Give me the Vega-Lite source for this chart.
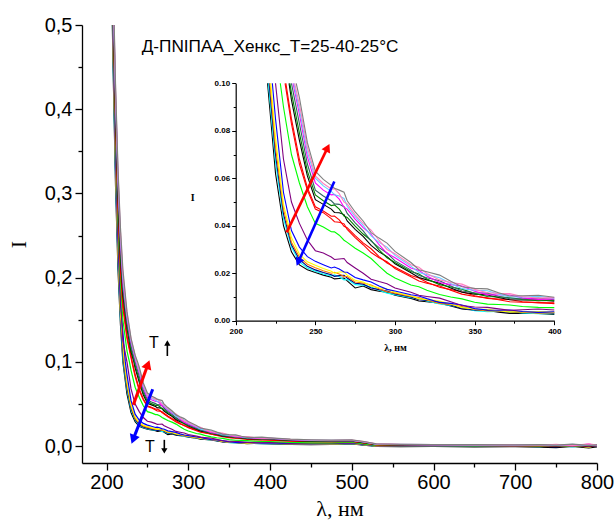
{
"$schema": "https://vega.github.io/schema/vega-lite/v6.json",
"width": 515,
"height": 438,
"autosize": "none",
"padding": {"left": 82, "top": 25, "right": 18, "bottom": 63},
"background": "white",
"config": {"view": {"stroke": null}},
"datasets": {
"curves": [
{"s":"s01","x":205,"y":0.62},{"s":"s01","x":208,"y":0.45},{"s":"s01","x":211,"y":0.31},{"s":"s01","x":214,"y":0.21},{"s":"s01","x":217,"y":0.145},{"s":"s01","x":220,"y":0.1},{"s":"s01","x":225,"y":0.062},{"s":"s01","x":230,"y":0.04},{"s":"s01","x":235,"y":0.029},{"s":"s01","x":240,"y":0.0235},{"s":"s01","x":245,"y":0.0215},{"s":"s01","x":250,"y":0.0203},{"s":"s01","x":255,"y":0.0192},{"s":"s01","x":260,"y":0.0183},{"s":"s01","x":265,"y":0.0178},{"s":"s01","x":270,"y":0.0168},{"s":"s01","x":275,"y":0.0138},{"s":"s01","x":280,"y":0.0146},{"s":"s01","x":290,"y":0.0124},{"s":"s01","x":300,"y":0.0107},{"s":"s01","x":310,"y":0.0094},{"s":"s01","x":320,"y":0.008},{"s":"s01","x":335,"y":0.0062},{"s":"s01","x":350,"y":0.0044},{"s":"s01","x":365,"y":0.0036},{"s":"s01","x":380,"y":0.0032},{"s":"s01","x":400,"y":0.0026},{"s":"s01","x":425,"y":0.0022},{"s":"s01","x":450,"y":0.0019},{"s":"s01","x":475,"y":0.0021},{"s":"s01","x":500,"y":0.0028},{"s":"s01","x":515,"y":0.0012},{"s":"s01","x":530,"y":-0.0003},{"s":"s01","x":560,"y":-0.0006},{"s":"s01","x":600,"y":-0.0004},{"s":"s01","x":650,"y":-0.0009},{"s":"s01","x":700,"y":-0.0006},{"s":"s01","x":730,"y":-0.0012},{"s":"s01","x":750,"y":-0.0018},{"s":"s01","x":770,"y":-0.0004},{"s":"s01","x":790,"y":-0.0022},{"s":"s01","x":800,"y":-0.0008},
{"s":"s02","x":205,"y":0.63},{"s":"s02","x":208,"y":0.46},{"s":"s02","x":211,"y":0.32},{"s":"s02","x":214,"y":0.22},{"s":"s02","x":217,"y":0.15},{"s":"s02","x":220.5,"y":0.1},{"s":"s02","x":225,"y":0.067},{"s":"s02","x":230,"y":0.043},{"s":"s02","x":235,"y":0.031},{"s":"s02","x":240,"y":0.0248},{"s":"s02","x":245,"y":0.0222},{"s":"s02","x":250,"y":0.0208},{"s":"s02","x":255,"y":0.0197},{"s":"s02","x":260,"y":0.0189},{"s":"s02","x":265,"y":0.0185},{"s":"s02","x":270,"y":0.0174},{"s":"s02","x":275,"y":0.0152},{"s":"s02","x":280,"y":0.015},{"s":"s02","x":290,"y":0.0128},{"s":"s02","x":300,"y":0.011},{"s":"s02","x":310,"y":0.0097},{"s":"s02","x":320,"y":0.0083},{"s":"s02","x":335,"y":0.0064},{"s":"s02","x":350,"y":0.0042},{"s":"s02","x":365,"y":0.0039},{"s":"s02","x":380,"y":0.0033},{"s":"s02","x":400,"y":0.003},{"s":"s02","x":425,"y":0.0025},{"s":"s02","x":450,"y":0.0023},{"s":"s02","x":475,"y":0.0024},{"s":"s02","x":500,"y":0.0031},{"s":"s02","x":515,"y":0.0015},{"s":"s02","x":530,"y":0.0001},{"s":"s02","x":560,"y":-0.0002},{"s":"s02","x":600,"y":0.0002},{"s":"s02","x":650,"y":-0.0004},{"s":"s02","x":700,"y":0.0001},{"s":"s02","x":730,"y":-0.0007},{"s":"s02","x":750,"y":0.0006},{"s":"s02","x":770,"y":-0.001},{"s":"s02","x":790,"y":0.0008},{"s":"s02","x":800,"y":-0.0002},
{"s":"s03","x":205,"y":0.64},{"s":"s03","x":208,"y":0.47},{"s":"s03","x":211,"y":0.33},{"s":"s03","x":214,"y":0.225},{"s":"s03","x":217,"y":0.155},{"s":"s03","x":221,"y":0.1},{"s":"s03","x":225,"y":0.07},{"s":"s03","x":230,"y":0.045},{"s":"s03","x":235,"y":0.032},{"s":"s03","x":240,"y":0.0258},{"s":"s03","x":245,"y":0.0229},{"s":"s03","x":250,"y":0.0214},{"s":"s03","x":255,"y":0.0203},{"s":"s03","x":260,"y":0.0194},{"s":"s03","x":265,"y":0.019},{"s":"s03","x":270,"y":0.018},{"s":"s03","x":275,"y":0.0158},{"s":"s03","x":280,"y":0.0154},{"s":"s03","x":290,"y":0.0131},{"s":"s03","x":300,"y":0.0113},{"s":"s03","x":310,"y":0.01},{"s":"s03","x":320,"y":0.0085},{"s":"s03","x":335,"y":0.0066},{"s":"s03","x":350,"y":0.0045},{"s":"s03","x":365,"y":0.004},{"s":"s03","x":380,"y":0.0035},{"s":"s03","x":400,"y":0.0032},{"s":"s03","x":425,"y":0.0026},{"s":"s03","x":450,"y":0.0024},{"s":"s03","x":475,"y":0.0026},{"s":"s03","x":500,"y":0.0033},{"s":"s03","x":515,"y":0.0016},{"s":"s03","x":530,"y":0.0002},{"s":"s03","x":560,"y":0.0},{"s":"s03","x":600,"y":-0.0003},{"s":"s03","x":650,"y":0.0003},{"s":"s03","x":700,"y":-0.0002},{"s":"s03","x":730,"y":0.0004},{"s":"s03","x":750,"y":-0.0008},{"s":"s03","x":770,"y":0.0012},{"s":"s03","x":790,"y":-0.0006},{"s":"s03","x":800,"y":0.0004},
{"s":"s04","x":205,"y":0.645},{"s":"s04","x":208,"y":0.475},{"s":"s04","x":211,"y":0.335},{"s":"s04","x":214,"y":0.23},{"s":"s04","x":217,"y":0.158},{"s":"s04","x":221.5,"y":0.1},{"s":"s04","x":225,"y":0.073},{"s":"s04","x":230,"y":0.047},{"s":"s04","x":235,"y":0.033},{"s":"s04","x":240,"y":0.0268},{"s":"s04","x":245,"y":0.0238},{"s":"s04","x":250,"y":0.0223},{"s":"s04","x":255,"y":0.021},{"s":"s04","x":260,"y":0.02},{"s":"s04","x":265,"y":0.0197},{"s":"s04","x":270,"y":0.0186},{"s":"s04","x":275,"y":0.0163},{"s":"s04","x":280,"y":0.0159},{"s":"s04","x":290,"y":0.0135},{"s":"s04","x":300,"y":0.0116},{"s":"s04","x":310,"y":0.0102},{"s":"s04","x":320,"y":0.0087},{"s":"s04","x":335,"y":0.0068},{"s":"s04","x":350,"y":0.0047},{"s":"s04","x":365,"y":0.0041},{"s":"s04","x":380,"y":0.0036},{"s":"s04","x":400,"y":0.0034},{"s":"s04","x":425,"y":0.0028},{"s":"s04","x":450,"y":0.0025},{"s":"s04","x":475,"y":0.0027},{"s":"s04","x":500,"y":0.0034},{"s":"s04","x":515,"y":0.0018},{"s":"s04","x":530,"y":0.0003},{"s":"s04","x":560,"y":0.0001},{"s":"s04","x":600,"y":0.0004},{"s":"s04","x":650,"y":-0.0002},{"s":"s04","x":700,"y":0.0005},{"s":"s04","x":730,"y":-0.0003},{"s":"s04","x":750,"y":0.001},{"s":"s04","x":770,"y":-0.0004},{"s":"s04","x":790,"y":0.0015},{"s":"s04","x":800,"y":0.0002},
{"s":"s05","x":205,"y":0.65},{"s":"s05","x":208,"y":0.48},{"s":"s05","x":211,"y":0.34},{"s":"s05","x":214,"y":0.235},{"s":"s05","x":217,"y":0.162},{"s":"s05","x":222,"y":0.1},{"s":"s05","x":225,"y":0.077},{"s":"s05","x":230,"y":0.049},{"s":"s05","x":235,"y":0.035},{"s":"s05","x":240,"y":0.028},{"s":"s05","x":245,"y":0.0248},{"s":"s05","x":250,"y":0.0234},{"s":"s05","x":255,"y":0.022},{"s":"s05","x":260,"y":0.0208},{"s":"s05","x":265,"y":0.0205},{"s":"s05","x":270,"y":0.0192},{"s":"s05","x":275,"y":0.017},{"s":"s05","x":280,"y":0.0163},{"s":"s05","x":290,"y":0.0139},{"s":"s05","x":300,"y":0.012},{"s":"s05","x":310,"y":0.0105},{"s":"s05","x":320,"y":0.0089},{"s":"s05","x":335,"y":0.007},{"s":"s05","x":350,"y":0.0049},{"s":"s05","x":365,"y":0.0042},{"s":"s05","x":380,"y":0.0037},{"s":"s05","x":400,"y":0.0036},{"s":"s05","x":425,"y":0.0029},{"s":"s05","x":450,"y":0.0026},{"s":"s05","x":475,"y":0.0028},{"s":"s05","x":500,"y":0.0036},{"s":"s05","x":515,"y":0.0019},{"s":"s05","x":530,"y":0.0004},{"s":"s05","x":560,"y":0.0002},{"s":"s05","x":600,"y":0.0001},{"s":"s05","x":650,"y":0.0003},{"s":"s05","x":700,"y":0.0},{"s":"s05","x":730,"y":0.0006},{"s":"s05","x":750,"y":-0.0002},{"s":"s05","x":770,"y":0.0008},{"s":"s05","x":790,"y":-0.0012},{"s":"s05","x":800,"y":0.001},
{"s":"s06","x":205,"y":0.66},{"s":"s06","x":208,"y":0.49},{"s":"s06","x":211,"y":0.35},{"s":"s06","x":214,"y":0.245},{"s":"s06","x":217,"y":0.17},{"s":"s06","x":223,"y":0.1},{"s":"s06","x":225,"y":0.085},{"s":"s06","x":230,"y":0.054},{"s":"s06","x":235,"y":0.038},{"s":"s06","x":240,"y":0.031},{"s":"s06","x":245,"y":0.027},{"s":"s06","x":250,"y":0.025},{"s":"s06","x":255,"y":0.0236},{"s":"s06","x":260,"y":0.0222},{"s":"s06","x":265,"y":0.0218},{"s":"s06","x":270,"y":0.0204},{"s":"s06","x":275,"y":0.0182},{"s":"s06","x":280,"y":0.0172},{"s":"s06","x":290,"y":0.0146},{"s":"s06","x":300,"y":0.0125},{"s":"s06","x":310,"y":0.0109},{"s":"s06","x":320,"y":0.0093},{"s":"s06","x":335,"y":0.0073},{"s":"s06","x":350,"y":0.0051},{"s":"s06","x":365,"y":0.0044},{"s":"s06","x":380,"y":0.0039},{"s":"s06","x":400,"y":0.0038},{"s":"s06","x":425,"y":0.0031},{"s":"s06","x":450,"y":0.0028},{"s":"s06","x":475,"y":0.003},{"s":"s06","x":500,"y":0.0038},{"s":"s06","x":515,"y":0.0021},{"s":"s06","x":530,"y":0.0005},{"s":"s06","x":560,"y":0.0003},{"s":"s06","x":600,"y":0.0002},{"s":"s06","x":650,"y":-0.0001},{"s":"s06","x":700,"y":0.0004},{"s":"s06","x":730,"y":0.0001},{"s":"s06","x":750,"y":0.0007},{"s":"s06","x":770,"y":0.0002},{"s":"s06","x":790,"y":0.0005},{"s":"s06","x":800,"y":-0.0004},
{"s":"s07","x":205,"y":0.67},{"s":"s07","x":208,"y":0.5},{"s":"s07","x":211,"y":0.36},{"s":"s07","x":214,"y":0.255},{"s":"s07","x":217,"y":0.18},{"s":"s07","x":220,"y":0.125},{"s":"s07","x":225,"y":0.1},{"s":"s07","x":230,"y":0.068},{"s":"s07","x":235,"y":0.05},{"s":"s07","x":240,"y":0.041},{"s":"s07","x":245,"y":0.034},{"s":"s07","x":250,"y":0.0295},{"s":"s07","x":255,"y":0.0285},{"s":"s07","x":260,"y":0.0268},{"s":"s07","x":265,"y":0.026},{"s":"s07","x":270,"y":0.0245},{"s":"s07","x":275,"y":0.0222},{"s":"s07","x":280,"y":0.02},{"s":"s07","x":290,"y":0.0165},{"s":"s07","x":300,"y":0.0138},{"s":"s07","x":310,"y":0.012},{"s":"s07","x":320,"y":0.0102},{"s":"s07","x":335,"y":0.008},{"s":"s07","x":350,"y":0.0058},{"s":"s07","x":365,"y":0.005},{"s":"s07","x":380,"y":0.0046},{"s":"s07","x":400,"y":0.0045},{"s":"s07","x":425,"y":0.0036},{"s":"s07","x":450,"y":0.0032},{"s":"s07","x":475,"y":0.0033},{"s":"s07","x":500,"y":0.0041},{"s":"s07","x":515,"y":0.0024},{"s":"s07","x":530,"y":0.0007},{"s":"s07","x":560,"y":0.0004},{"s":"s07","x":600,"y":0.0003},{"s":"s07","x":650,"y":0.0001},{"s":"s07","x":700,"y":0.0003},{"s":"s07","x":730,"y":-0.0002},{"s":"s07","x":750,"y":0.0004},{"s":"s07","x":770,"y":0.0009},{"s":"s07","x":790,"y":-0.0005},{"s":"s07","x":800,"y":0.0006},
{"s":"s08","x":205,"y":0.68},{"s":"s08","x":208,"y":0.51},{"s":"s08","x":211,"y":0.375},{"s":"s08","x":214,"y":0.27},{"s":"s08","x":217,"y":0.195},{"s":"s08","x":220,"y":0.15},{"s":"s08","x":225,"y":0.113},{"s":"s08","x":228,"y":0.1},{"s":"s08","x":230,"y":0.09},{"s":"s08","x":235,"y":0.07},{"s":"s08","x":240,"y":0.058},{"s":"s08","x":245,"y":0.048},{"s":"s08","x":250,"y":0.041},{"s":"s08","x":255,"y":0.0395},{"s":"s08","x":260,"y":0.0375},{"s":"s08","x":265,"y":0.036},{"s":"s08","x":270,"y":0.033},{"s":"s08","x":275,"y":0.0305},{"s":"s08","x":280,"y":0.0285},{"s":"s08","x":290,"y":0.023},{"s":"s08","x":300,"y":0.018},{"s":"s08","x":310,"y":0.015},{"s":"s08","x":320,"y":0.0128},{"s":"s08","x":335,"y":0.01},{"s":"s08","x":350,"y":0.0078},{"s":"s08","x":365,"y":0.0068},{"s":"s08","x":380,"y":0.006},{"s":"s08","x":400,"y":0.0055},{"s":"s08","x":425,"y":0.0045},{"s":"s08","x":450,"y":0.004},{"s":"s08","x":475,"y":0.004},{"s":"s08","x":500,"y":0.0048},{"s":"s08","x":515,"y":0.0028},{"s":"s08","x":530,"y":0.001},{"s":"s08","x":560,"y":0.0007},{"s":"s08","x":600,"y":0.0005},{"s":"s08","x":650,"y":0.0004},{"s":"s08","x":700,"y":0.0006},{"s":"s08","x":730,"y":0.0001},{"s":"s08","x":750,"y":0.0009},{"s":"s08","x":770,"y":-0.0003},{"s":"s08","x":790,"y":0.0011},{"s":"s08","x":800,"y":0.0003},
{"s":"s09","x":205,"y":0.69},{"s":"s09","x":208,"y":0.52},{"s":"s09","x":211,"y":0.39},{"s":"s09","x":214,"y":0.285},{"s":"s09","x":217,"y":0.21},{"s":"s09","x":220,"y":0.165},{"s":"s09","x":225,"y":0.128},{"s":"s09","x":231,"y":0.1},{"s":"s09","x":235,"y":0.083},{"s":"s09","x":240,"y":0.066},{"s":"s09","x":245,"y":0.055},{"s":"s09","x":250,"y":0.047},{"s":"s09","x":255,"y":0.0455},{"s":"s09","x":260,"y":0.043},{"s":"s09","x":265,"y":0.0415},{"s":"s09","x":270,"y":0.0385},{"s":"s09","x":275,"y":0.035},{"s":"s09","x":280,"y":0.032},{"s":"s09","x":290,"y":0.0265},{"s":"s09","x":300,"y":0.022},{"s":"s09","x":310,"y":0.0185},{"s":"s09","x":320,"y":0.0158},{"s":"s09","x":335,"y":0.0128},{"s":"s09","x":350,"y":0.0102},{"s":"s09","x":365,"y":0.0088},{"s":"s09","x":380,"y":0.0078},{"s":"s09","x":400,"y":0.0072},{"s":"s09","x":425,"y":0.006},{"s":"s09","x":450,"y":0.0054},{"s":"s09","x":475,"y":0.0052},{"s":"s09","x":500,"y":0.0057},{"s":"s09","x":515,"y":0.0038},{"s":"s09","x":530,"y":0.0016},{"s":"s09","x":560,"y":0.0012},{"s":"s09","x":600,"y":0.001},{"s":"s09","x":650,"y":0.0008},{"s":"s09","x":700,"y":0.0007},{"s":"s09","x":730,"y":0.0009},{"s":"s09","x":750,"y":0.0004},{"s":"s09","x":770,"y":0.0012},{"s":"s09","x":790,"y":0.0002},{"s":"s09","x":800,"y":0.0008},
{"s":"s10","x":205,"y":0.695},{"s":"s10","x":208,"y":0.525},{"s":"s10","x":211,"y":0.395},{"s":"s10","x":214,"y":0.29},{"s":"s10","x":217,"y":0.215},{"s":"s10","x":220,"y":0.17},{"s":"s10","x":225,"y":0.131},{"s":"s10","x":231.5,"y":0.1},{"s":"s10","x":235,"y":0.085},{"s":"s10","x":240,"y":0.068},{"s":"s10","x":245,"y":0.056},{"s":"s10","x":250,"y":0.048},{"s":"s10","x":255,"y":0.0462},{"s":"s10","x":260,"y":0.044},{"s":"s10","x":265,"y":0.0425},{"s":"s10","x":270,"y":0.0392},{"s":"s10","x":275,"y":0.0358},{"s":"s10","x":280,"y":0.0328},{"s":"s10","x":290,"y":0.027},{"s":"s10","x":300,"y":0.0225},{"s":"s10","x":310,"y":0.019},{"s":"s10","x":320,"y":0.0162},{"s":"s10","x":335,"y":0.0131},{"s":"s10","x":350,"y":0.0105},{"s":"s10","x":365,"y":0.0091},{"s":"s10","x":380,"y":0.008},{"s":"s10","x":400,"y":0.0075},{"s":"s10","x":425,"y":0.0062},{"s":"s10","x":450,"y":0.0056},{"s":"s10","x":475,"y":0.0054},{"s":"s10","x":500,"y":0.0059},{"s":"s10","x":515,"y":0.004},{"s":"s10","x":530,"y":0.0018},{"s":"s10","x":560,"y":0.0013},{"s":"s10","x":600,"y":0.0011},{"s":"s10","x":650,"y":0.0009},{"s":"s10","x":700,"y":0.0008},{"s":"s10","x":730,"y":0.0005},{"s":"s10","x":750,"y":0.0011},{"s":"s10","x":770,"y":0.0003},{"s":"s10","x":790,"y":0.0013},{"s":"s10","x":800,"y":0.0006},
{"s":"s11","x":205,"y":0.7},{"s":"s11","x":208,"y":0.53},{"s":"s11","x":211,"y":0.4},{"s":"s11","x":214,"y":0.3},{"s":"s11","x":217,"y":0.225},{"s":"s11","x":220,"y":0.18},{"s":"s11","x":225,"y":0.14},{"s":"s11","x":230,"y":0.112},{"s":"s11","x":233.5,"y":0.1},{"s":"s11","x":235,"y":0.093},{"s":"s11","x":240,"y":0.076},{"s":"s11","x":245,"y":0.061},{"s":"s11","x":250,"y":0.051},{"s":"s11","x":255,"y":0.049},{"s":"s11","x":260,"y":0.047},{"s":"s11","x":265,"y":0.0455},{"s":"s11","x":270,"y":0.042},{"s":"s11","x":275,"y":0.0385},{"s":"s11","x":280,"y":0.0355},{"s":"s11","x":290,"y":0.029},{"s":"s11","x":300,"y":0.024},{"s":"s11","x":310,"y":0.0202},{"s":"s11","x":320,"y":0.0172},{"s":"s11","x":335,"y":0.0138},{"s":"s11","x":350,"y":0.0112},{"s":"s11","x":365,"y":0.0098},{"s":"s11","x":380,"y":0.0087},{"s":"s11","x":400,"y":0.0082},{"s":"s11","x":425,"y":0.0068},{"s":"s11","x":450,"y":0.006},{"s":"s11","x":475,"y":0.0058},{"s":"s11","x":500,"y":0.0062},{"s":"s11","x":515,"y":0.0043},{"s":"s11","x":530,"y":0.002},{"s":"s11","x":560,"y":0.0015},{"s":"s11","x":600,"y":0.0013},{"s":"s11","x":650,"y":0.0011},{"s":"s11","x":700,"y":0.0009},{"s":"s11","x":730,"y":0.0012},{"s":"s11","x":750,"y":0.0006},{"s":"s11","x":770,"y":0.0014},{"s":"s11","x":790,"y":0.0004},{"s":"s11","x":800,"y":0.001},
{"s":"s12","x":205,"y":0.705},{"s":"s12","x":208,"y":0.535},{"s":"s12","x":211,"y":0.405},{"s":"s12","x":214,"y":0.305},{"s":"s12","x":217,"y":0.23},{"s":"s12","x":220,"y":0.185},{"s":"s12","x":225,"y":0.143},{"s":"s12","x":230,"y":0.115},{"s":"s12","x":234,"y":0.1},{"s":"s12","x":235,"y":0.096},{"s":"s12","x":240,"y":0.079},{"s":"s12","x":245,"y":0.063},{"s":"s12","x":250,"y":0.053},{"s":"s12","x":255,"y":0.0505},{"s":"s12","x":260,"y":0.0485},{"s":"s12","x":265,"y":0.047},{"s":"s12","x":270,"y":0.0435},{"s":"s12","x":275,"y":0.0398},{"s":"s12","x":280,"y":0.0365},{"s":"s12","x":290,"y":0.0298},{"s":"s12","x":300,"y":0.0245},{"s":"s12","x":310,"y":0.0207},{"s":"s12","x":320,"y":0.0176},{"s":"s12","x":335,"y":0.0142},{"s":"s12","x":350,"y":0.0115},{"s":"s12","x":365,"y":0.01},{"s":"s12","x":380,"y":0.0089},{"s":"s12","x":400,"y":0.0085},{"s":"s12","x":425,"y":0.007},{"s":"s12","x":450,"y":0.0062},{"s":"s12","x":475,"y":0.006},{"s":"s12","x":500,"y":0.0064},{"s":"s12","x":515,"y":0.0045},{"s":"s12","x":530,"y":0.0021},{"s":"s12","x":560,"y":0.0016},{"s":"s12","x":600,"y":0.0014},{"s":"s12","x":650,"y":0.0012},{"s":"s12","x":700,"y":0.001},{"s":"s12","x":730,"y":0.0008},{"s":"s12","x":750,"y":0.0015},{"s":"s12","x":770,"y":0.0006},{"s":"s12","x":790,"y":0.0017},{"s":"s12","x":800,"y":0.0009},
{"s":"s13","x":205,"y":0.715},{"s":"s13","x":208,"y":0.54},{"s":"s13","x":211,"y":0.41},{"s":"s13","x":214,"y":0.31},{"s":"s13","x":217,"y":0.24},{"s":"s13","x":220,"y":0.19},{"s":"s13","x":225,"y":0.148},{"s":"s13","x":230,"y":0.119},{"s":"s13","x":235,"y":0.1},{"s":"s13","x":240,"y":0.083},{"s":"s13","x":245,"y":0.066},{"s":"s13","x":250,"y":0.055},{"s":"s13","x":255,"y":0.0525},{"s":"s13","x":260,"y":0.0505},{"s":"s13","x":265,"y":0.049},{"s":"s13","x":270,"y":0.0452},{"s":"s13","x":275,"y":0.0412},{"s":"s13","x":280,"y":0.0378},{"s":"s13","x":290,"y":0.0308},{"s":"s13","x":300,"y":0.0252},{"s":"s13","x":310,"y":0.0213},{"s":"s13","x":320,"y":0.0181},{"s":"s13","x":335,"y":0.0146},{"s":"s13","x":350,"y":0.0118},{"s":"s13","x":365,"y":0.0103},{"s":"s13","x":380,"y":0.0092},{"s":"s13","x":400,"y":0.0088},{"s":"s13","x":425,"y":0.0072},{"s":"s13","x":450,"y":0.0065},{"s":"s13","x":475,"y":0.0062},{"s":"s13","x":500,"y":0.0066},{"s":"s13","x":515,"y":0.0047},{"s":"s13","x":530,"y":0.0022},{"s":"s13","x":560,"y":0.0017},{"s":"s13","x":600,"y":0.0015},{"s":"s13","x":650,"y":0.0013},{"s":"s13","x":700,"y":0.0011},{"s":"s13","x":730,"y":0.0014},{"s":"s13","x":750,"y":0.0007},{"s":"s13","x":770,"y":0.0018},{"s":"s13","x":790,"y":0.0008},{"s":"s13","x":800,"y":0.0013},
{"s":"s14","x":205,"y":0.725},{"s":"s14","x":208,"y":0.545},{"s":"s14","x":211,"y":0.415},{"s":"s14","x":214,"y":0.315},{"s":"s14","x":217,"y":0.245},{"s":"s14","x":220,"y":0.195},{"s":"s14","x":225,"y":0.152},{"s":"s14","x":230,"y":0.123},{"s":"s14","x":236,"y":0.1},{"s":"s14","x":240,"y":0.087},{"s":"s14","x":245,"y":0.069},{"s":"s14","x":250,"y":0.058},{"s":"s14","x":255,"y":0.055},{"s":"s14","x":260,"y":0.053},{"s":"s14","x":265,"y":0.0512},{"s":"s14","x":270,"y":0.047},{"s":"s14","x":275,"y":0.0428},{"s":"s14","x":280,"y":0.0392},{"s":"s14","x":290,"y":0.032},{"s":"s14","x":300,"y":0.0265},{"s":"s14","x":310,"y":0.0222},{"s":"s14","x":320,"y":0.0188},{"s":"s14","x":335,"y":0.0152},{"s":"s14","x":350,"y":0.0124},{"s":"s14","x":365,"y":0.0108},{"s":"s14","x":380,"y":0.0096},{"s":"s14","x":400,"y":0.0092},{"s":"s14","x":425,"y":0.0076},{"s":"s14","x":450,"y":0.0068},{"s":"s14","x":475,"y":0.0066},{"s":"s14","x":500,"y":0.0068},{"s":"s14","x":515,"y":0.0049},{"s":"s14","x":530,"y":0.0024},{"s":"s14","x":560,"y":0.0019},{"s":"s14","x":600,"y":0.0016},{"s":"s14","x":650,"y":0.0014},{"s":"s14","x":700,"y":0.0012},{"s":"s14","x":730,"y":0.0009},{"s":"s14","x":750,"y":0.0018},{"s":"s14","x":770,"y":0.0004},{"s":"s14","x":790,"y":0.0025},{"s":"s14","x":800,"y":0.0007},
{"s":"s15","x":205,"y":0.735},{"s":"s15","x":208,"y":0.55},{"s":"s15","x":211,"y":0.42},{"s":"s15","x":214,"y":0.32},{"s":"s15","x":217,"y":0.25},{"s":"s15","x":220,"y":0.2},{"s":"s15","x":225,"y":0.155},{"s":"s15","x":230,"y":0.125},{"s":"s15","x":236.5,"y":0.1},{"s":"s15","x":240,"y":0.089},{"s":"s15","x":245,"y":0.071},{"s":"s15","x":250,"y":0.06},{"s":"s15","x":255,"y":0.0568},{"s":"s15","x":260,"y":0.0545},{"s":"s15","x":265,"y":0.0525},{"s":"s15","x":270,"y":0.0482},{"s":"s15","x":275,"y":0.0438},{"s":"s15","x":280,"y":0.0402},{"s":"s15","x":290,"y":0.033},{"s":"s15","x":300,"y":0.0275},{"s":"s15","x":310,"y":0.023},{"s":"s15","x":320,"y":0.0194},{"s":"s15","x":335,"y":0.0157},{"s":"s15","x":350,"y":0.0128},{"s":"s15","x":365,"y":0.0112},{"s":"s15","x":380,"y":0.01},{"s":"s15","x":400,"y":0.0095},{"s":"s15","x":425,"y":0.0079},{"s":"s15","x":450,"y":0.0071},{"s":"s15","x":475,"y":0.0068},{"s":"s15","x":500,"y":0.007},{"s":"s15","x":515,"y":0.0051},{"s":"s15","x":530,"y":0.0025},{"s":"s15","x":560,"y":0.002},{"s":"s15","x":600,"y":0.0017},{"s":"s15","x":650,"y":0.0015},{"s":"s15","x":700,"y":0.0013},{"s":"s15","x":730,"y":0.0016},{"s":"s15","x":750,"y":0.001},{"s":"s15","x":770,"y":0.002},{"s":"s15","x":790,"y":0.0006},{"s":"s15","x":800,"y":0.0014},
{"s":"s16","x":205,"y":0.74},{"s":"s16","x":208,"y":0.555},{"s":"s16","x":211,"y":0.425},{"s":"s16","x":214,"y":0.325},{"s":"s16","x":217,"y":0.255},{"s":"s16","x":220,"y":0.205},{"s":"s16","x":225,"y":0.158},{"s":"s16","x":230,"y":0.127},{"s":"s16","x":237,"y":0.1},{"s":"s16","x":240,"y":0.091},{"s":"s16","x":245,"y":0.073},{"s":"s16","x":250,"y":0.061},{"s":"s16","x":255,"y":0.0578},{"s":"s16","x":260,"y":0.0555},{"s":"s16","x":265,"y":0.0535},{"s":"s16","x":270,"y":0.0492},{"s":"s16","x":275,"y":0.0446},{"s":"s16","x":280,"y":0.041},{"s":"s16","x":290,"y":0.0338},{"s":"s16","x":300,"y":0.0282},{"s":"s16","x":310,"y":0.0236},{"s":"s16","x":320,"y":0.0199},{"s":"s16","x":335,"y":0.0161},{"s":"s16","x":350,"y":0.0132},{"s":"s16","x":365,"y":0.0115},{"s":"s16","x":380,"y":0.0102},{"s":"s16","x":400,"y":0.0097},{"s":"s16","x":425,"y":0.0081},{"s":"s16","x":450,"y":0.0073},{"s":"s16","x":475,"y":0.007},{"s":"s16","x":500,"y":0.0072},{"s":"s16","x":515,"y":0.0053},{"s":"s16","x":530,"y":0.0026},{"s":"s16","x":560,"y":0.0021},{"s":"s16","x":600,"y":0.0018},{"s":"s16","x":650,"y":0.0016},{"s":"s16","x":700,"y":0.0014},{"s":"s16","x":730,"y":0.0011},{"s":"s16","x":750,"y":0.0021},{"s":"s16","x":770,"y":0.0008},{"s":"s16","x":790,"y":0.0027},{"s":"s16","x":800,"y":0.0012},
{"s":"s17","x":205,"y":0.75},{"s":"s17","x":208,"y":0.56},{"s":"s17","x":211,"y":0.43},{"s":"s17","x":214,"y":0.33},{"s":"s17","x":217,"y":0.26},{"s":"s17","x":220,"y":0.21},{"s":"s17","x":225,"y":0.16},{"s":"s17","x":230,"y":0.128},{"s":"s17","x":235,"y":0.108},{"s":"s17","x":238,"y":0.1},{"s":"s17","x":240,"y":0.094},{"s":"s17","x":245,"y":0.075},{"s":"s17","x":250,"y":0.063},{"s":"s17","x":255,"y":0.0595},{"s":"s17","x":260,"y":0.057},{"s":"s17","x":265,"y":0.055},{"s":"s17","x":270,"y":0.0505},{"s":"s17","x":275,"y":0.0458},{"s":"s17","x":280,"y":0.042},{"s":"s17","x":290,"y":0.0348},{"s":"s17","x":300,"y":0.0292},{"s":"s17","x":310,"y":0.0245},{"s":"s17","x":320,"y":0.0206},{"s":"s17","x":335,"y":0.0166},{"s":"s17","x":350,"y":0.0136},{"s":"s17","x":365,"y":0.0118},{"s":"s17","x":380,"y":0.0105},{"s":"s17","x":400,"y":0.0099},{"s":"s17","x":425,"y":0.0084},{"s":"s17","x":450,"y":0.0076},{"s":"s17","x":475,"y":0.0072},{"s":"s17","x":500,"y":0.0074},{"s":"s17","x":515,"y":0.0055},{"s":"s17","x":530,"y":0.0027},{"s":"s17","x":560,"y":0.0022},{"s":"s17","x":600,"y":0.0019},{"s":"s17","x":650,"y":0.0017},{"s":"s17","x":700,"y":0.0015},{"s":"s17","x":730,"y":0.0018},{"s":"s17","x":750,"y":0.0012},{"s":"s17","x":770,"y":0.0023},{"s":"s17","x":790,"y":0.001},{"s":"s17","x":800,"y":0.0016},
{"s":"s01","x":262,"y":0.0176},{"s":"s01","x":268,"y":0.018},{"s":"s01","x":285,"y":0.0131},{"s":"s01","x":295,"y":0.012},{"s":"s01","x":315,"y":0.0083},{"s":"s01","x":328,"y":0.0074},{"s":"s01","x":342,"y":0.0049},{"s":"s01","x":358,"y":0.0043},{"s":"s01","x":372,"y":0.0031},{"s":"s01","x":390,"y":0.0031},
{"s":"s02","x":262,"y":0.0193},{"s":"s02","x":268,"y":0.0172},{"s":"s02","x":285,"y":0.0142},{"s":"s02","x":295,"y":0.0116},{"s":"s02","x":315,"y":0.0093},{"s":"s02","x":328,"y":0.007},{"s":"s02","x":342,"y":0.0056},{"s":"s02","x":358,"y":0.0038},{"s":"s02","x":372,"y":0.0039},{"s":"s02","x":390,"y":0.0029},
{"s":"s03","x":262,"y":0.0187},{"s":"s03","x":268,"y":0.0191},{"s":"s03","x":285,"y":0.0138},{"s":"s03","x":295,"y":0.0125},{"s":"s03","x":315,"y":0.0088},{"s":"s03","x":328,"y":0.0079},{"s":"s03","x":342,"y":0.0052},{"s":"s03","x":358,"y":0.0045},{"s":"s03","x":372,"y":0.0034},{"s":"s03","x":390,"y":0.0036},
{"s":"s04","x":262,"y":0.0204},{"s":"s04","x":268,"y":0.0186},{"s":"s04","x":285,"y":0.015},{"s":"s04","x":295,"y":0.0122},{"s":"s04","x":315,"y":0.0098},{"s":"s04","x":328,"y":0.0073},{"s":"s04","x":342,"y":0.006},{"s":"s04","x":358,"y":0.0041},{"s":"s04","x":372,"y":0.0042},{"s":"s04","x":390,"y":0.0032},
{"s":"s05","x":262,"y":0.02},{"s":"s05","x":268,"y":0.0206},{"s":"s05","x":285,"y":0.0146},{"s":"s05","x":295,"y":0.0133},{"s":"s05","x":315,"y":0.0092},{"s":"s05","x":328,"y":0.0083},{"s":"s05","x":342,"y":0.0055},{"s":"s05","x":358,"y":0.0048},{"s":"s05","x":372,"y":0.0036},{"s":"s05","x":390,"y":0.0039},
{"s":"s06","x":262,"y":0.0226},{"s":"s06","x":268,"y":0.0205},{"s":"s06","x":285,"y":0.0163},{"s":"s06","x":295,"y":0.0132},{"s":"s06","x":315,"y":0.0104},{"s":"s06","x":328,"y":0.0077},{"s":"s06","x":342,"y":0.0066},{"s":"s06","x":358,"y":0.0045},{"s":"s06","x":372,"y":0.0045},{"s":"s06","x":390,"y":0.0035},
{"s":"s07","x":262,"y":0.0258},{"s":"s07","x":268,"y":0.0262},{"s":"s07","x":285,"y":0.0175},{"s":"s07","x":295,"y":0.0156},{"s":"s07","x":315,"y":0.0107},{"s":"s07","x":328,"y":0.0095},{"s":"s07","x":342,"y":0.0064},{"s":"s07","x":358,"y":0.0056},{"s":"s07","x":372,"y":0.0044},{"s":"s07","x":390,"y":0.0049},
{"s":"s08","x":262,"y":0.0374},{"s":"s08","x":268,"y":0.0339},{"s":"s08","x":285,"y":0.0262},{"s":"s08","x":295,"y":0.02},{"s":"s08","x":315,"y":0.0143},{"s":"s08","x":328,"y":0.011},{"s":"s08","x":342,"y":0.0092},{"s":"s08","x":358,"y":0.007},{"s":"s08","x":372,"y":0.0066},{"s":"s08","x":390,"y":0.0056},
{"s":"s09","x":262,"y":0.0417},{"s":"s09","x":268,"y":0.0408},{"s":"s09","x":285,"y":0.0287},{"s":"s09","x":295,"y":0.0248},{"s":"s09","x":315,"y":0.0167},{"s":"s09","x":328,"y":0.0146},{"s":"s09","x":342,"y":0.0112},{"s":"s09","x":358,"y":0.0097},{"s":"s09","x":372,"y":0.008},{"s":"s09","x":390,"y":0.0077},
{"s":"s10","x":262,"y":0.0441},{"s":"s10","x":268,"y":0.0398},{"s":"s10","x":285,"y":0.0303},{"s":"s10","x":295,"y":0.0243},{"s":"s10","x":315,"y":0.018},{"s":"s10","x":328,"y":0.0141},{"s":"s10","x":342,"y":0.0122},{"s":"s10","x":358,"y":0.0094},{"s":"s10","x":372,"y":0.0089},{"s":"s10","x":390,"y":0.0075},
{"s":"s11","x":262,"y":0.0456},{"s":"s11","x":268,"y":0.0447},{"s":"s11","x":285,"y":0.0317},{"s":"s11","x":295,"y":0.027},{"s":"s11","x":315,"y":0.0182},{"s":"s11","x":328,"y":0.0158},{"s":"s11","x":342,"y":0.012},{"s":"s11","x":358,"y":0.0108},{"s":"s11","x":372,"y":0.0088},{"s":"s11","x":390,"y":0.0088},
{"s":"s12","x":262,"y":0.0488},{"s":"s12","x":268,"y":0.0441},{"s":"s12","x":285,"y":0.0338},{"s":"s12","x":295,"y":0.0265},{"s":"s12","x":315,"y":0.0197},{"s":"s12","x":328,"y":0.0152},{"s":"s12","x":342,"y":0.0133},{"s":"s12","x":358,"y":0.0102},{"s":"s12","x":372,"y":0.0098},{"s":"s12","x":390,"y":0.0084},
{"s":"s13","x":262,"y":0.0492},{"s":"s13","x":268,"y":0.048},{"s":"s13","x":285,"y":0.0335},{"s":"s13","x":295,"y":0.0285},{"s":"s13","x":315,"y":0.019},{"s":"s13","x":328,"y":0.0168},{"s":"s13","x":342,"y":0.0125},{"s":"s13","x":358,"y":0.0116},{"s":"s13","x":372,"y":0.0093},{"s":"s13","x":390,"y":0.0095},
{"s":"s14","x":262,"y":0.0532},{"s":"s14","x":268,"y":0.0478},{"s":"s14","x":285,"y":0.0364},{"s":"s14","x":295,"y":0.0284},{"s":"s14","x":315,"y":0.0212},{"s":"s14","x":328,"y":0.0161},{"s":"s14","x":342,"y":0.0146},{"s":"s14","x":358,"y":0.011},{"s":"s14","x":372,"y":0.0108},{"s":"s14","x":390,"y":0.009},
{"s":"s15","x":262,"y":0.053},{"s":"s15","x":268,"y":0.0515},{"s":"s15","x":285,"y":0.0357},{"s":"s15","x":295,"y":0.031},{"s":"s15","x":315,"y":0.0203},{"s":"s15","x":328,"y":0.0181},{"s":"s15","x":342,"y":0.0135},{"s":"s15","x":358,"y":0.0126},{"s":"s15","x":372,"y":0.01},{"s":"s15","x":390,"y":0.0103},
{"s":"s16","x":262,"y":0.0556},{"s":"s16","x":268,"y":0.05},{"s":"s16","x":285,"y":0.0382},{"s":"s16","x":295,"y":0.03},{"s":"s16","x":315,"y":0.0225},{"s":"s16","x":328,"y":0.0172},{"s":"s16","x":342,"y":0.0154},{"s":"s16","x":358,"y":0.0118},{"s":"s16","x":372,"y":0.0114},{"s":"s16","x":390,"y":0.0095},
{"s":"s17","x":262,"y":0.0558},{"s":"s17","x":268,"y":0.0541},{"s":"s17","x":285,"y":0.0371},{"s":"s17","x":295,"y":0.0327},{"s":"s17","x":315,"y":0.0215},{"s":"s17","x":328,"y":0.0192},{"s":"s17","x":342,"y":0.0143},{"s":"s17","x":358,"y":0.0134},{"s":"s17","x":372,"y":0.0104},{"s":"s17","x":390,"y":0.0107}
],
"arrowsMain": [{"a":"red","x":232.8,"y":0.049,"x2":250.6,"y2":0.097},{"a":"blue","x":256.5,"y":0.0676,"x2":232.6,"y2":0.008}],
"arrowsInset": [{"a":"red","x":232.0,"y":0.0372,"x2":257.7,"y2":0.0729},{"a":"blue","x":261.9,"y":0.0586,"x2":239.3,"y2":0.0247}],
"tArrows": [{"a":"up","x":274.4,"y":0.107,"x2":274.4,"y2":0.1225},{"a":"down","x":270.7,"y":0.0075,"x2":270.7,"y2":-0.0056}],
"tLabels": [{"t":"T","x":258,"y":0.122},{"t":"T","x":253.2,"y":-0.0005}],
"heading": [{"t":"Д-ПNIПАА_Хенкс_T=25-40-25°C","x":243,"y":0.468}]
},
"layer": [
{
"layer": [
{
"data": {"name": "curves"},
"mark": {"type": "line", "clip": true, "strokeWidth": 1.2},
"encoding": {
"x": {"field": "x", "type": "quantitative",
"scale": {"domain": [170, 800], "nice": false, "zero": false},
"axis": {"title": "λ, нм", "values": [200,250,300,350,400,450,500,550,600,650,700,750,800],
"labelExpr": "datum.value % 100 === 0 ? datum.label : ''",
"tickSize": {"condition": {"test": "datum.value % 100 === 0", "value": 7}, "value": 4},
"grid": false, "labelFont": "Liberation Sans", "labelFontSize": 20, "labelColor": "black",
"tickColor": "black", "domainColor": "black", "tickWidth": 1.3, "domainWidth": 1.3,
"labelPadding": 2, "labelFlush": false, "labelOverlap": false,
"titleFont": "Liberation Serif", "titleFontSize": 22, "titleFontWeight": "normal", "titleColor": "black", "titlePadding": 6}},
"y": {"field": "y", "type": "quantitative",
"scale": {"domain": [-0.02, 0.5], "nice": false, "zero": false},
"axis": {"title": "I", "values": [0,0.05,0.1,0.15,0.2,0.25,0.3,0.35,0.4,0.45,0.5],
"labelExpr": "round(datum.value*100) % 10 === 0 ? replace(format(datum.value, '.1f'), '.', ',') : ''",
"tickSize": {"condition": {"test": "round(datum.value*100) % 10 === 0", "value": 7}, "value": 4},
"grid": false, "labelFont": "Liberation Sans", "labelFontSize": 20, "labelColor": "black",
"tickColor": "black", "domainColor": "black", "tickWidth": 1.3, "domainWidth": 1.3,
"labelPadding": 3, "labelFlush": false, "labelOverlap": false,
"titleFont": "Liberation Serif", "titleFontSize": 22, "titleFontWeight": "normal", "titleColor": "black", "titlePadding": 14}},
"color": {"field": "s", "type": "nominal", "legend": null,
"scale": {"domain": ["s01","s02","s03","s04","s05","s06","s07","s08","s09","s10","s11","s12","s13","s14","s15","s16","s17"],
"range": ["#000000","#00FFFF","#000080","#FF8000","#FFFF00","#0000FF","#800080","#00FF00","#FF0000","#FF0000","#000000","#008000","#336666","#FF00FF","#66CCFF","#FF80C0","#808080"]}}
}
},
{
"data": {"name": "arrowsMain"},
"transform": [{"filter": "datum.a === 'red'"}],
"mark": {"type": "rule", "color": "#FF0000", "strokeWidth": 3},
"encoding": {"x": {"field": "x", "type": "quantitative"}, "y": {"field": "y", "type": "quantitative"}, "x2": {"field": "x2"}, "y2": {"field": "y2"}}
},
{
"data": {"name": "arrowsMain"},
"transform": [{"filter": "datum.a === 'red'"}],
"mark": {"type": "point", "shape": "triangle-up", "filled": true, "color": "#FF0000", "opacity": 1, "size": 110, "angle": 20},
"encoding": {"x": {"field": "x2", "type": "quantitative"}, "y": {"field": "y2", "type": "quantitative"}}
},
{
"data": {"name": "arrowsMain"},
"transform": [{"filter": "datum.a === 'blue'"}],
"mark": {"type": "rule", "color": "#0000FF", "strokeWidth": 3},
"encoding": {"x": {"field": "x", "type": "quantitative"}, "y": {"field": "y", "type": "quantitative"}, "x2": {"field": "x2"}, "y2": {"field": "y2"}}
},
{
"data": {"name": "arrowsMain"},
"transform": [{"filter": "datum.a === 'blue'"}],
"mark": {"type": "point", "shape": "triangle-up", "filled": true, "color": "#0000FF", "opacity": 1, "size": 110, "angle": 201},
"encoding": {"x": {"field": "x2", "type": "quantitative"}, "y": {"field": "y2", "type": "quantitative"}}
},
{
"data": {"name": "tArrows"},
"mark": {"type": "rule", "color": "black", "strokeWidth": 1.6},
"encoding": {"x": {"field": "x", "type": "quantitative"}, "y": {"field": "y", "type": "quantitative"}, "x2": {"field": "x2"}, "y2": {"field": "y2"}}
},
{
"data": {"name": "tArrows"},
"transform": [{"filter": "datum.a === 'up'"}],
"mark": {"type": "point", "shape": "triangle-up", "filled": true, "color": "black", "opacity": 1, "size": 40},
"encoding": {"x": {"field": "x2", "type": "quantitative"}, "y": {"field": "y2", "type": "quantitative"}}
},
{
"data": {"name": "tArrows"},
"transform": [{"filter": "datum.a === 'down'"}],
"mark": {"type": "point", "shape": "triangle-down", "filled": true, "color": "black", "opacity": 1, "size": 40},
"encoding": {"x": {"field": "x2", "type": "quantitative"}, "y": {"field": "y2", "type": "quantitative"}}
},
{
"data": {"name": "tLabels"},
"mark": {"type": "text", "font": "Liberation Sans", "fontSize": 16, "color": "black", "align": "center", "baseline": "middle"},
"encoding": {"x": {"field": "x", "type": "quantitative"}, "y": {"field": "y", "type": "quantitative"}, "text": {"field": "t"}}
},
{
"data": {"name": "heading"},
"mark": {"type": "text", "font": "Liberation Sans", "fontSize": 17.2, "color": "black", "align": "left", "baseline": "alphabetic"},
"encoding": {"x": {"field": "x", "type": "quantitative"}, "y": {"field": "y", "type": "quantitative"}, "text": {"field": "t"}}
}
]
},
{
"layer": [
{
"data": {"name": "curves"},
"transform": [{"filter": "datum.x >= 200 && datum.x <= 400 && datum.y <= 0.1"}],
"mark": {"type": "line", "strokeWidth": 1.1},
"encoding": {
"x": {"field": "x", "type": "quantitative",
"scale": {"domain": [200, 400], "nice": false, "zero": false, "range": [153.7, 472.3]},
"axis": {"orient": "bottom", "offset": -142.3, "title": "λ, нм", "values": [200,225,250,275,300,325,350,375,400],
"labelExpr": "datum.value % 50 === 0 ? datum.label : ''",
"tickSize": {"condition": {"test": "datum.value % 50 === 0", "value": 4}, "value": 2.5},
"grid": false, "labelFont": "Liberation Sans", "labelFontSize": 8, "labelFontWeight": "bold", "labelColor": "black",
"tickColor": "black", "domainColor": "black", "tickWidth": 1, "domainWidth": 1.2,
"labelPadding": 3, "labelFlush": false, "labelOverlap": false,
"titleFont": "Liberation Serif", "titleFontSize": 10, "titleFontWeight": "bold", "titleColor": "black", "titlePadding": 7}},
"y": {"field": "y", "type": "quantitative",
"scale": {"domain": [0, 0.1], "nice": false, "zero": false, "range": [295.7, 58.3]},
"axis": {"orient": "left", "offset": -153.7, "title": "I", "values": [0,0.01,0.02,0.03,0.04,0.05,0.06,0.07,0.08,0.09,0.1],
"labelExpr": "round(datum.value*100) % 2 === 0 ? format(datum.value, '.2f') : ''",
"tickSize": {"condition": {"test": "round(datum.value*100) % 2 === 0", "value": 4}, "value": 2.5},
"grid": false, "labelFont": "Liberation Sans", "labelFontSize": 8, "labelFontWeight": "bold", "labelColor": "black",
"tickColor": "black", "domainColor": "black", "tickWidth": 1, "domainWidth": 1.2,
"labelPadding": 2, "labelFlush": false, "labelOverlap": false,
"titleFont": "Liberation Serif", "titleFontSize": 10, "titleFontWeight": "bold", "titleColor": "black", "titleAngle": 0, "titlePadding": 22}},
"color": {"field": "s", "type": "nominal", "legend": null}
}
},
{
"data": {"name": "arrowsInset"},
"transform": [{"filter": "datum.a === 'red'"}],
"mark": {"type": "rule", "color": "#FF0000", "strokeWidth": 2.6},
"encoding": {"x": {"field": "x", "type": "quantitative"}, "y": {"field": "y", "type": "quantitative"}, "x2": {"field": "x2"}, "y2": {"field": "y2"}}
},
{
"data": {"name": "arrowsInset"},
"transform": [{"filter": "datum.a === 'red'"}],
"mark": {"type": "point", "shape": "triangle-up", "filled": true, "color": "#FF0000", "opacity": 1, "size": 90, "angle": 26},
"encoding": {"x": {"field": "x2", "type": "quantitative"}, "y": {"field": "y2", "type": "quantitative"}}
},
{
"data": {"name": "arrowsInset"},
"transform": [{"filter": "datum.a === 'blue'"}],
"mark": {"type": "rule", "color": "#0000FF", "strokeWidth": 2.6},
"encoding": {"x": {"field": "x", "type": "quantitative"}, "y": {"field": "y", "type": "quantitative"}, "x2": {"field": "x2"}, "y2": {"field": "y2"}}
},
{
"data": {"name": "arrowsInset"},
"transform": [{"filter": "datum.a === 'blue'"}],
"mark": {"type": "point", "shape": "triangle-up", "filled": true, "color": "#0000FF", "opacity": 1, "size": 90, "angle": 204},
"encoding": {"x": {"field": "x2", "type": "quantitative"}, "y": {"field": "y2", "type": "quantitative"}}
}
]
}
],
"resolve": {"scale": {"x": "independent", "y": "independent"}, "axis": {"x": "independent", "y": "independent"}}
}
